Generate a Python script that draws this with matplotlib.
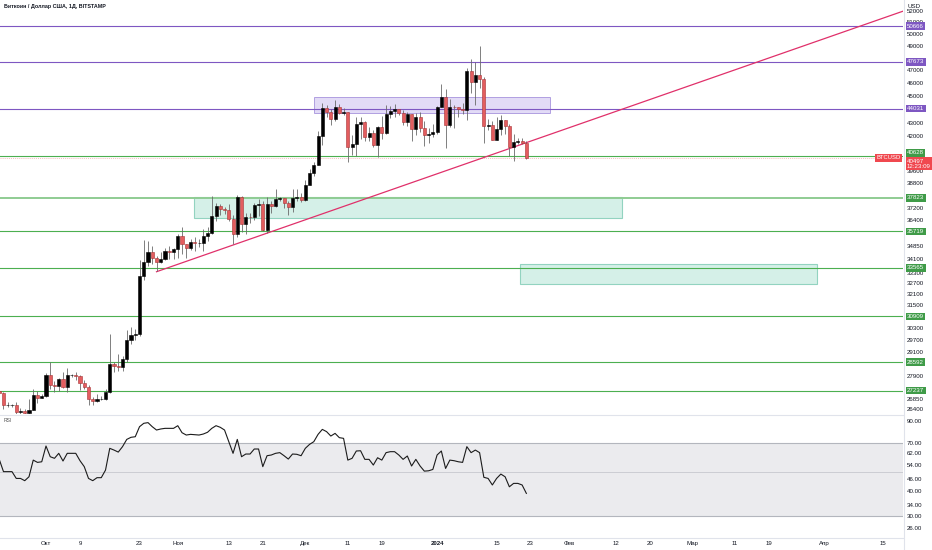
import numpy as np
import pandas as pd
import matplotlib
matplotlib.use('Agg')
import matplotlib.pyplot as plt
import matplotlib.dates as mdates
import matplotlib.transforms as mtransforms
from matplotlib.patches import Rectangle
from matplotlib.ticker import FixedLocator, NullLocator, FixedFormatter, NullFormatter
from matplotlib.lines import Line2D

plt.rcParams['font.family'] = ['Liberation Sans', 'DejaVu Sans']

# ---------------- data ----------------
dates = pd.date_range('2023-09-20', '2024-01-22', freq='D')

opens = ([27210, 27130, 26570, 26580, 26580, 26250, 26300, 26220, 26370, 27030, 26910] +
         [26970, 27990, 27500, 27430, 27790, 27410, 27950, 27970, 27940, 27590, 27390, 26870, 26760, 26860,
          26860, 27160, 28520, 28410, 28330, 28720, 29680, 29920, 29990, 33090, 33920, 34500, 34160, 33910,
          34090, 34540, 34500] +
         [34660, 35440, 34940, 34730, 35080, 35050, 35050, 35430, 35650, 36700, 37310, 37130, 37070, 36480,
          35550, 37880, 36160, 36600, 36580, 37390, 37460, 35800, 37420, 37290, 37720, 37790, 37470, 37250,
          37830, 37860] +
         [37710, 38690, 39470, 39980, 41990, 44080, 43770, 43290, 44170, 43730, 43790, 41240, 41450, 42890,
          43020, 41940, 42260, 41360, 42660, 42270, 43650, 43860, 43990, 43730, 43010, 43600, 42520, 43440,
          42580, 42070, 42140] +
         [42280, 44180, 44950, 42850, 44180, 44160, 43970, 43930, 46970, 46110, 46630, 46340, 42780, 42840,
          41730, 42510, 43150, 42740, 41260, 41620, 41680, 41560])

highs = ([27380, 27160, 26720, 26630, 26730, 26420, 26390, 26830, 27300, 27240, 27090] +
         [28060, 28590, 27680, 27840, 28120, 28290, 28040, 28100, 27990, 27730, 27480, 26940, 27100, 26970,
          27290, 30000, 28610, 28970, 28900, 30210, 30340, 30230, 34000, 35200, 35130, 34830, 34240, 34480,
          34740, 34860, 34720] +
         [35580, 35970, 34940, 35280, 35380, 35280, 35890, 35990, 37950, 37500, 37410, 37220, 37420, 36760,
          37980, 37930, 36850, 36850, 37520, 37760, 37650, 37870, 37650, 38420, 37900, 37830, 37590, 38420,
          38420, 38160] +
         [38990, 39700, 40190, 42400, 44490, 44300, 44040, 44700, 44370, 44070, 43810, 42100, 43430, 43400,
          43090, 42700, 42430, 42750, 43480, 44280, 44200, 44380, 44000, 43940, 43800, 43600, 43680, 43800,
          43130, 42600, 42880] +
         [44200, 45880, 45500, 44730, 44340, 44190, 44480, 47190, 47900, 47700, 48970, 46500, 43250, 43080,
          43400, 43570, 43200, 42900, 42190, 41850, 41880, 41650])

lows = ([26880, 26390, 26490, 26500, 26130, 26010, 26100, 26100, 26330, 26680, 26890] +
        [26960, 27330, 27170, 27230, 27380, 27190, 27860, 27720, 27280, 27300, 26560, 26560, 26690, 26810,
         26820, 27120, 28100, 28140, 28180, 28600, 29480, 29710, 29900, 32880, 33700, 33800, 33400, 33870,
         34050, 34080, 34070] +
        [34110, 34350, 34120, 34580, 34560, 34770, 34540, 35140, 35550, 36360, 36750, 36770, 36350, 34970,
         35370, 35680, 35550, 36210, 36400, 36690, 35750, 35650, 36880, 37260, 37620, 37190, 36720, 36900,
         37600, 37560] +
        [37630, 38650, 39290, 39980, 41420, 43390, 42850, 43090, 43600, 43580, 40230, 40670, 40610, 41810,
         41690, 41690, 41250, 40520, 41800, 42200, 43330, 43390, 43580, 42790, 42720, 41650, 42100, 42320,
         41300, 41530, 41970] +
        [42180, 44150, 41200, 42640, 42620, 43400, 43600, 43200, 45250, 44300, 45600, 41550, 42450, 41720,
         41720, 42080, 42200, 40640, 40250, 41440, 41490, 40420])

closes = ([27130, 26570, 26580, 26580, 26250, 26300, 26220, 26370, 27030, 26910, 26970] +
          [27990, 27500, 27430, 27790, 27410, 27950, 27970, 27940, 27590, 27390, 26870, 26760, 26860, 26860,
           27160, 28520, 28410, 28330, 28720, 29680, 29920, 29990, 33090, 33920, 34500, 34160, 33910, 34090,
           34540, 34500, 34660] +
          [35440, 34940, 34730, 35080, 35050, 35050, 35430, 35650, 36700, 37310, 37130, 37070, 36480, 35550,
           37880, 36160, 36600, 36580, 37390, 37460, 35800, 37420, 37290, 37720, 37790, 37470, 37250, 37830,
           37860, 37710] +
          [38690, 39470, 39980, 41990, 44080, 43770, 43290, 44170, 43730, 43790, 41240, 41450, 42890, 43020,
           41940, 42260, 41360, 42660, 42270, 43650, 43860, 43990, 43730, 43010, 43600, 42520, 43440, 42580,
           42070, 42140, 42280] +
          [44180, 44950, 42850, 44180, 44160, 43970, 43930, 46970, 46110, 46630, 46340, 42780, 42840, 41730,
           42510, 43150, 42740, 41260, 41620, 41680, 41560, 40497])

rsi = [57.9, 50.2, 50.2, 50.2, 46.4, 46.4, 45.2, 47.3, 57.4, 55.9, 56.3,
       67.6, 59.7, 58.6, 62.1, 56.8, 62.1, 62.1, 62.1, 57.0, 53.2,
       46.4, 45.2, 46.8, 46.8, 51.1, 65.8, 64.5, 63.0, 67.1, 73.0,
       74.8, 75.3, 84.6, 88.0, 88.7, 84.6, 81.4, 82.4, 83.0, 83.0,
       83.0, 85.6, 78.9, 76.8, 77.4, 77.1, 76.8, 77.7, 79.3, 83.0,
       85.6, 84.0, 81.4, 71.1, 62.1, 73.0, 59.7, 61.6, 61.6, 65.3,
       65.3, 53.2, 60.4, 60.9, 62.1, 62.6, 60.4, 58.1, 61.6, 61.4,
       60.4, 65.8, 68.9, 71.1, 77.4, 82.0, 79.9, 75.9, 78.3, 74.5,
       73.9, 57.4, 58.6, 63.8, 64.0, 57.9, 57.9, 54.2, 59.0, 57.4,
       62.6, 63.3, 63.3, 60.9, 57.9, 60.2, 53.6, 57.9, 53.6, 50.5,
       50.7, 51.5, 60.9, 63.8, 52.1, 57.4, 57.0, 56.3, 55.9, 67.1,
       62.6, 64.5, 62.6, 47.0, 46.4, 43.0, 46.4, 48.8, 47.3, 42.1,
       43.8, 43.8, 43.0, 39.0]

purple_levels = [50666, 47673, 44031]
green_levels = [40628, 37823, 35719, 33565, 30909, 28592, 27237]
current_price = 40497
countdown = '12:23:09'

# zones: (start, end, low, high)
purple_zone = ('2023-12-03', '2024-01-27 14:00', 43680, 44920)
green_zones = [('2023-11-04 19:00', '2024-02-13 12:00', 36565, 37850),
               ('2024-01-20 12:00', '2024-03-30 10:00', 32660, 33810)]
trend_dates = ['2023-10-27', '2024-04-19 14:00']
trend_prices = [33350, 51980]

price_ticks = [52000, 51000, 50000, 49000, 47000, 46000, 45000, 43000, 42000,
               39600, 38800, 37200, 36400, 34850, 34100, 33300, 32700, 32100, 31500, 30300,
               29700, 29100, 27900, 26850, 26400]
rsi_ticks = [90, 70, 62, 54, 46, 40, 34, 30, 26]

xtick_dates = ['2023-10-01', '2023-10-09', '2023-10-23', '2023-11-01', '2023-11-13', '2023-11-21',
               '2023-12-01', '2023-12-11', '2023-12-19', '2024-01-01', '2024-01-15', '2024-01-23',
               '2024-02-01', '2024-02-12', '2024-02-20', '2024-03-01', '2024-03-11', '2024-03-19',
               '2024-04-01', '2024-04-15']
xtick_labels = ['Окт', '9', '23', 'Ноя', '13', '21', 'Дек', '11', '19', '2024', '15', '23',
                'Фев', '12', '20', 'Мар', '11', '19', 'Апр', '15']

# ---------------- figure ----------------
W, H = 932, 550
fig = plt.figure(figsize=(W / 100, H / 100), dpi=100)
fig.patch.set_facecolor('white')


def rect(x0, y0, x1, y1):
    return [x0 / W, 1 - y1 / H, (x1 - x0) / W, (y1 - y0) / H]


axp = fig.add_axes(rect(0, 0, 903, 414))
axr = fig.add_axes(rect(0, 416, 903, 537))

x = mdates.date2num(dates.to_pydatetime())
o = np.array(opens, float)
h = np.array(highs, float)
l = np.array(lows, float)
c = np.array(closes, float)
up = c >= o

ref0 = mdates.date2num(pd.Timestamp('2023-10-01'))
xlim = (ref0 - 10.82, ref0 + 201.6)

TXT = '#131722'
FS = 4.4

# ---------------- price pane ----------------
axp.set_yscale('log')
axp.set_xlim(*xlim)
axp.set_ylim(26172, 52982)

# zones
pz = purple_zone
x0, x1 = mdates.date2num(pd.Timestamp(pz[0])), mdates.date2num(pd.Timestamp(pz[1]))
axp.add_patch(Rectangle((x0, pz[2]), x1 - x0, pz[3] - pz[2], facecolor='#d9cff3', alpha=0.75,
                        edgecolor='#9b86d8', lw=0.7, zorder=1))
for gz in green_zones:
    x0, x1 = mdates.date2num(pd.Timestamp(gz[0])), mdates.date2num(pd.Timestamp(gz[1]))
    axp.add_patch(Rectangle((x0, gz[2]), x1 - x0, gz[3] - gz[2], facecolor='#d5f0e8',
                            edgecolor='#92d3c0', lw=0.8, zorder=1))

# levels
for v in purple_levels:
    axp.axhline(v, color='#7e57c2', lw=0.8, zorder=2)
for v in green_levels:
    if v == 37823:
        axp.axhline(v, color='#8fcc93', lw=1.4, zorder=2)
    else:
        axp.axhline(v, color='#4caf50', lw=0.8, zorder=2)
axp.axhline(current_price, color='#f5a3a6', lw=0.5, ls=(0, (1.5, 1.5)), zorder=2)

# trend line
td = [mdates.date2num(pd.Timestamp(d)) for d in trend_dates]
axp.plot(td, trend_prices, color='#e0306a', lw=0.9, zorder=3)

# candles
axp.vlines(x, l, h, color='#6a6a6a', lw=0.6, zorder=4)
bw = 0.72
bot = np.minimum(o, c)
hgt = np.abs(c - o)
axp.bar(x[up], hgt[up], bw, bottom=bot[up], color='#000000', edgecolor='#000000', lw=0.4, zorder=5)
axp.bar(x[~up], hgt[~up], bw, bottom=bot[~up], color='#e35d5f', edgecolor='#a83234', lw=0.4, zorder=5)

axp.yaxis.tick_right()
axp.yaxis.set_major_locator(FixedLocator(price_ticks))
axp.yaxis.set_major_formatter(FixedFormatter([str(t) for t in price_ticks]))
axp.yaxis.set_minor_locator(NullLocator())
axp.yaxis.set_minor_formatter(NullFormatter())
axp.tick_params(axis='y', which='both', length=0, labelsize=FS, labelcolor=TXT, pad=2.5)
axp.set_xticks([])
for s in axp.spines.values():
    s.set_visible(False)

trans = mtransforms.blended_transform_factory(axp.transAxes, axp.transData)
for v in purple_levels:
    axp.text(1.0045, v, str(v), transform=trans, fontsize=FS, color='white', va='center', ha='left',
             bbox=dict(boxstyle='square,pad=0.22', fc='#7e57c2', ec='none'), clip_on=False, zorder=20)
for v in green_levels:
    tr = trans
    if v == 40628:
        tr = mtransforms.offset_copy(trans, fig=fig, y=3, units='dots')
    axp.text(1.0045, v, str(v), transform=tr, fontsize=FS, color='white', va='center', ha='left',
             bbox=dict(boxstyle='square,pad=0.22', fc='#3f9b48', ec='none'), clip_on=False, zorder=20)
tr_dn = mtransforms.offset_copy(trans, fig=fig, y=-1, units='dots')
axp.text(1.0045, current_price, f'{current_price}\n{countdown}', transform=tr_dn, fontsize=FS,
         color='white', va='top', ha='left', linespacing=1.05,
         bbox=dict(boxstyle='square,pad=0.25', fc='#f0484f', ec='none'), clip_on=False, zorder=21)
axp.text(0.9975, current_price, 'BTCUSD', transform=trans, fontsize=FS - 0.2, color='white',
         va='center', ha='right', bbox=dict(boxstyle='square,pad=0.22', fc='#f0484f', ec='none'),
         clip_on=False, zorder=21)

# ---------------- RSI pane ----------------
axr.set_yscale('log')
axr.set_xlim(*xlim)
axr.set_ylim(23.5, 95.8)
axr.axhspan(30, 70, color='#ebebee', zorder=0, lw=0)
axr.axhline(70, color='#b3b6bd', lw=0.8, zorder=1)
axr.axhline(30, color='#b3b6bd', lw=0.8, zorder=1)
axr.axhline(50, color='#c6c8ce', lw=0.6, zorder=1)
axr.plot(x, rsi, color='#1b1b1b', lw=0.8, zorder=3)

axr.yaxis.tick_right()
axr.yaxis.set_major_locator(FixedLocator(rsi_ticks))
axr.yaxis.set_major_formatter(FixedFormatter([f'{t:.2f}' for t in rsi_ticks]))
axr.yaxis.set_minor_locator(NullLocator())
axr.yaxis.set_minor_formatter(NullFormatter())
axr.tick_params(axis='y', which='both', length=0, labelsize=FS, labelcolor=TXT, pad=2.5)

xt = [mdates.date2num(pd.Timestamp(d)) for d in xtick_dates]
axr.set_xticks(xt)
axr.set_xticklabels(xtick_labels)
axr.tick_params(axis='x', length=0, labelsize=FS, labelcolor=TXT, pad=3.2)
for lab in axr.get_xticklabels():
    if lab.get_text() == '2024':
        lab.set_fontweight('bold')
for s in axr.spines.values():
    s.set_visible(False)

# separators
sep = '#e0e3eb'
fig.add_artist(Line2D([0, 903 / W], [1 - 415 / H, 1 - 415 / H], transform=fig.transFigure, color=sep, lw=0.8))
fig.add_artist(Line2D([0, 903 / W], [1 - 537.5 / H, 1 - 537.5 / H], transform=fig.transFigure, color=sep, lw=0.8))
fig.add_artist(Line2D([903.5 / W, 903.5 / W], [0, 1], transform=fig.transFigure, color=sep, lw=0.8))

# texts
fig.text(4 / W, 1 - 6.5 / H, 'Биткоин / Доллар США, 1Д, BITSTAMP', fontsize=3.9, color=TXT,
         fontweight='bold', va='center', ha='left')
fig.text(908 / W, 1 - 6 / H, 'USD', fontsize=FS, color=TXT, va='center', ha='left')
fig.text(4 / W, 1 - 421 / H, 'RSI', fontsize=3.6, color='#555555', va='center', ha='left')

fig.savefig('out.png', dpi=100, facecolor='white')
